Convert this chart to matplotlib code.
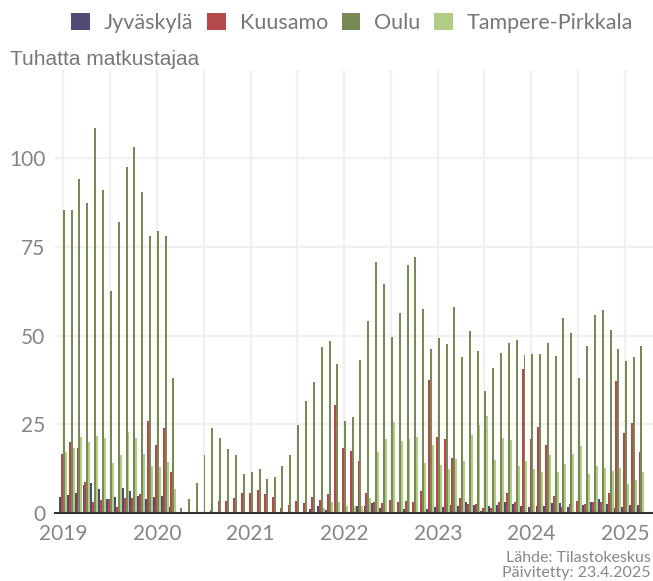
import matplotlib
matplotlib.use("Agg")
import matplotlib.pyplot as plt
import matplotlib.dates as mdates
import pandas as pd
import numpy as np

months = pd.date_range("2019-01-01", "2025-03-01", freq="MS")

jyvaskyla = [
    4.5, 5.1, 5.6, 7.9, 8.5, 6.8, 3.9, 4.5, 7.0, 6.2, 4.8, 3.9,
    4.5, 4.8, 1.7, 0, 0, 0, 0, 0, 0, 0, 0, 0,
    0, 0, 0, 0, 0, 0, 0, 0, 1.1, 2.0, 0.8, 0,
    0, 0, 2.0, 2.0, 2.8, 1.4, 0, 0, 1.1, 0, 0, 1.1,
    1.7, 1.7, 2.3, 2.0, 3.1, 2.3, 0.5, 2.0, 2.3, 3.1, 2.5, 2.0,
    1.7, 2.0, 2.0, 2.8, 2.8, 1.7, 0.3, 2.3, 3.1, 3.9, 2.5, 1.4,
    1.7, 2.3, 2.3,
]
kuusamo = [
    16.6, 20.0, 18.3, 8.7, 3.1, 3.7, 3.9, 1.7, 4.2, 4.2, 5.4, 25.9,
    19.2, 23.9, 11.5, 0, 0, 0, 0, 0.8, 3.4, 3.4, 4.2, 5.6,
    5.6, 6.5, 5.4, 4.5, 1.4, 2.3, 3.4, 2.8, 4.5, 3.7, 5.4, 30.4,
    18.3, 17.5, 14.6, 5.6, 3.1, 2.8, 3.7, 3.1, 3.4, 3.1, 6.2, 37.5,
    21.4, 20.8, 15.5, 4.2, 2.5, 2.5, 1.4, 1.4, 3.1, 5.6, 3.1, 40.6,
    20.8, 24.2, 19.2, 4.8, 1.7, 2.5, 3.4, 2.5, 3.1, 3.1, 5.6, 37.2,
    22.5, 25.4, 17.2,
]
oulu = [
    85.4, 85.4, 94.0, 87.3, 108.4, 91.0, 62.5, 82.0, 97.5, 103.0, 90.4, 78.0,
    79.4, 78.0, 38.1, 1.5, 3.9, 8.5, 16.3, 23.9, 21.1, 18.0, 16.3, 11.0,
    11.5, 12.4, 9.6, 10.1, 13.2, 16.3, 24.8, 31.5, 36.9, 46.8, 48.5, 42.0,
    25.9, 27.0, 43.1, 54.1, 70.7, 64.5, 49.6, 56.3, 69.9, 72.1, 57.5, 46.2,
    49.3, 47.6, 58.0, 43.9, 51.3, 45.6, 34.4, 40.8, 45.1, 47.9, 48.7, 44.5,
    44.8, 44.8, 47.9, 44.2, 54.9, 50.7, 38.0, 47.0, 55.8, 57.2, 51.5, 46.2,
    42.8, 43.9, 47.0,
]
tampere = [
    17.2, 18.3, 21.4, 20.0, 21.7, 21.1, 14.1, 16.3, 22.8, 21.1, 16.6, 13.2,
    13.0, 14.4, 6.8, 0, 0, 0, 0.3, 0, 0.3, 0, 0.3, 0,
    0, 0, 0, 0, 0, 0, 0, 0, 0.3, 1.4, 3.1, 3.1,
    2.0, 2.0, 2.0, 4.2, 17.2, 20.8, 25.6, 20.3, 20.8, 21.4, 14.1, 19.2,
    13.5, 12.4, 15.2, 14.6, 22.0, 24.8, 27.3, 14.9, 21.1, 20.6, 13.2, 14.6,
    12.4, 11.5, 16.3, 11.5, 13.8, 16.6, 18.9, 11.0, 13.2, 12.7, 11.8, 12.7,
    8.2, 9.3, 11.5,
]

series_names = ["Jyväskylä", "Kuusamo", "Oulu", "Tampere-Pirkkala"]
series_values = [jyvaskyla, kuusamo, oulu, tampere]
colors = ["#4f4b75", "#b5484b", "#778a55", "#b1cc85"]
year_ticks = [str(y) for y in range(2019, 2026)]
y_ticks = [0, 25, 50, 75, 100]

tick_color = "#858585"
fig = plt.figure(figsize=(6.53, 5.81), dpi=100)
ax = fig.add_axes([55 / 653, 68 / 581, 598 / 653, 443 / 581])

x = mdates.date2num(months.to_pydatetime())
w = 7.5
offsets = [-1.5, -0.5, 0.5, 1.5]
handles = []
for name, vals, col, off in zip(series_names, series_values, colors, offsets):
    h = ax.bar(x + off * w, vals, width=w, color=col, label=name, linewidth=0, zorder=3)
    handles.append(h)

ax.set_ylim(0, 124.8)
x0 = mdates.date2num(pd.Timestamp("2019-01-01").to_pydatetime())
x1 = mdates.date2num(pd.Timestamp("2025-01-01").to_pydatetime())
ax.set_xlim(x0 - 32.4, x1 + 108)

ax.set_yticks(y_ticks)
ax.set_yticklabels([str(v) for v in y_ticks])
year_pos = [mdates.date2num(pd.Timestamp(f"{y}-01-01").to_pydatetime()) for y in year_ticks]
ax.set_xticks(year_pos)
ax.set_xticklabels(year_ticks)
half_years = [mdates.date2num(pd.Timestamp(f"{y}-{m:02d}-01").to_pydatetime())
              for y in range(2019, 2026) for m in (1, 7)]
for hx in half_years:
    ax.axvline(hx, color="#f0f0f0", linewidth=1.6, zorder=1)
for yv in y_ticks[1:]:
    ax.axhline(yv, color="#f0f0f0", linewidth=1.6, zorder=1)

for s in ["top", "right", "left"]:
    ax.spines[s].set_visible(False)
ax.spines["bottom"].set_color("#333333")
ax.spines["bottom"].set_linewidth(1.5)
ax.spines["bottom"].set_zorder(4)

ax.tick_params(axis="both", length=0, labelsize=15, labelcolor=tick_color)
ax.tick_params(axis="x", pad=8)
ax.tick_params(axis="y", pad=7)
for lab in ax.get_xticklabels() + ax.get_yticklabels():
    lab.set_fontfamily("Lato")

fig.text(10 / 653, 1 - 65 / 581, "Tuhatta matkustajaa", fontsize=15,
         fontfamily="Liberation Sans", color="#777777", va="baseline", ha="left")

leg = fig.legend(handles=handles, labels=series_names, loc="center right",
                 bbox_to_anchor=(633 / 653, 1 - 23 / 581), ncol=4, frameon=False,
                 prop={"family": "Lato", "size": 15.5},
                 handlelength=0.85, handleheight=0.85,
                 handletextpad=0.65, columnspacing=0.65, borderpad=0, borderaxespad=0)
for t in leg.get_texts():
    t.set_color("#777777")

fig.text(651 / 653, 1 - 562 / 581, "Lähde: Tilastokeskus", fontsize=11.5,
         fontfamily="Lato", color="#888888", ha="right", va="baseline")
fig.text(651 / 653, 1 - 577 / 581, "Päivitetty: 23.4.2025", fontsize=11.5,
         fontfamily="Lato", color="#888888", ha="right", va="baseline")

fig.savefig("out.png", dpi=100)
